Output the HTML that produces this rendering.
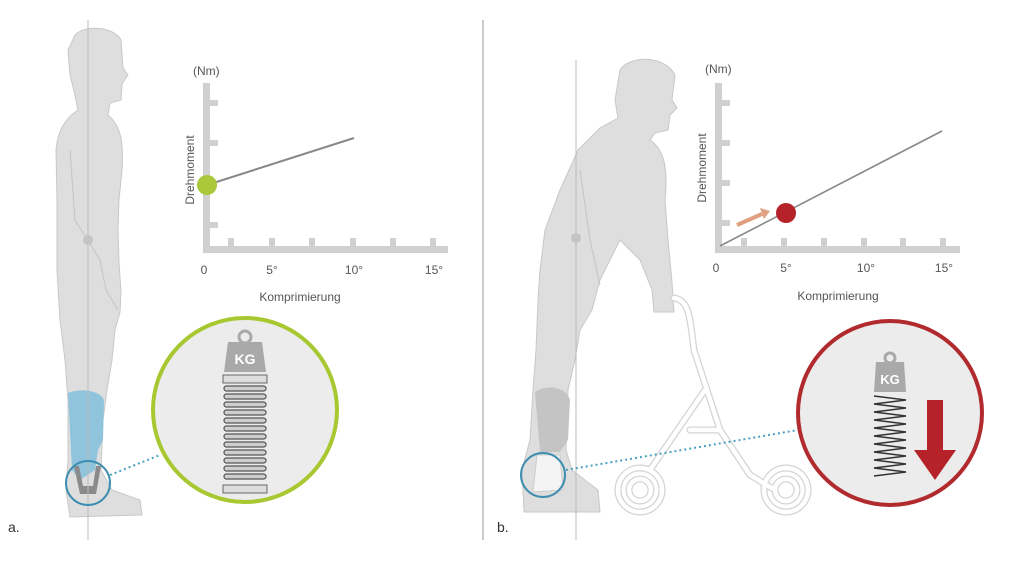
<!DOCTYPE html>
<html><head><meta charset="utf-8"><style>
html,body{margin:0;padding:0;background:#fff}
svg{display:block}
text{font-family:"Liberation Sans",sans-serif;fill:#555}
</style></head><body>
<svg width="1024" height="576" viewBox="0 0 1024 576" xmlns="http://www.w3.org/2000/svg">
<rect width="1024" height="576" fill="#fff"/>
<!-- divider -->
<line x1="483" y1="20" x2="483" y2="540" stroke="#999" stroke-width="1"/>

<!-- LEFT PERSON -->
<path d="M75 35 C85 24,115 27,121 40 L123 68 L128 75 L122 84 L121 100 L110 103 L108 115 C120 125,124 140,122 170 L119 200 L118 230 L119 262 L121 292 L120 312 L115 330 L112 360 L107 390 L103 420 L101 470 L112 490 L140 500 L142 515 L70 517 L66 490 L68 460 L68 400 L65 360 L60 320 L57 270 L57 200 L56 150 C58 125,70 115,78 110 L75 95 L70 75 L68 50 Z" fill="#dedede" stroke="#c8c8c8" stroke-width="1"/>
<path d="M70 150 L75 220 L100 260 L106 290 L118 310" fill="none" stroke="#c4c4c4" stroke-width="1"/>
<path d="M68 393 C80 388,100 390,104 400 L103 440 L98 450 L95 470 L80 480 L72 470 Z" fill="#8fc4dc"/>
<path d="M74 466 L80 494 L96 494 L101 466 L96 466 L93 486 L83 486 L79 466 Z" fill="#8a8a8a"/>
<line x1="88" y1="20" x2="88" y2="540" stroke="#bbb" stroke-width="1"/>
<circle cx="88" cy="240" r="5" fill="#c4c4c4"/>
<circle cx="88" cy="483" r="22" fill="none" stroke="#3e8eb0" stroke-width="2"/>
<line x1="110" y1="475" x2="160" y2="455" stroke="#4aa0c0" stroke-width="2" stroke-dasharray="2 3"/>

<!-- LEFT CHART -->
<g fill="#d0d0d0">
<rect x="203" y="83" width="7" height="170"/>
<rect x="203" y="246" width="245" height="7"/>
<rect x="210" y="100" width="8" height="6"/><rect x="210" y="140" width="8" height="6"/><rect x="210" y="222" width="8" height="6"/>
<rect x="228" y="238" width="6" height="8"/><rect x="269" y="238" width="6" height="8"/><rect x="309" y="238" width="6" height="8"/>
<rect x="350" y="238" width="6" height="8"/><rect x="390" y="238" width="6" height="8"/><rect x="430" y="238" width="6" height="8"/>
</g>
<line x1="207" y1="185" x2="354" y2="138" stroke="#888" stroke-width="2"/>
<circle cx="207" cy="185" r="10" fill="#a9c83a"/>
<text x="193" y="75" font-size="12">(Nm)</text>
<text transform="translate(194,170) rotate(-90)" font-size="12" text-anchor="middle">Drehmoment</text>
<g font-size="12" text-anchor="middle"><text x="204" y="274">0</text><text x="272" y="274">5°</text><text x="354" y="274">10°</text><text x="434" y="274">15°</text></g>
<text x="300" y="301" font-size="12" text-anchor="middle">Komprimierung</text>

<!-- LEFT CIRCLE -->
<circle cx="245" cy="410" r="92" fill="#ececec" stroke="#a8c832" stroke-width="4"/>
<path d="M228 342 L262 342 L266 372 L224 372 Z" fill="#a9a9a9"/>
<circle cx="245" cy="337" r="6" fill="none" stroke="#a9a9a9" stroke-width="3"/>
<text x="245" y="364" font-size="14" font-weight="bold" text-anchor="middle" style="fill:#fff">KG</text>
<g fill="#ddd" stroke="#666" stroke-width="1">
<rect x="223" y="375" width="44" height="8"/>
<rect x="223" y="485" width="44" height="8"/>
</g>
<g fill="#cfcfcf" stroke="#555" stroke-width="1.2">
<rect x="224" y="386" width="42" height="5" rx="2.5"/><rect x="224" y="394" width="42" height="5" rx="2.5"/>
<rect x="224" y="402" width="42" height="5" rx="2.5"/><rect x="224" y="410" width="42" height="5" rx="2.5"/>
<rect x="224" y="418" width="42" height="5" rx="2.5"/><rect x="224" y="426" width="42" height="5" rx="2.5"/>
<rect x="224" y="434" width="42" height="5" rx="2.5"/><rect x="224" y="442" width="42" height="5" rx="2.5"/>
<rect x="224" y="450" width="42" height="5" rx="2.5"/><rect x="224" y="458" width="42" height="5" rx="2.5"/>
<rect x="224" y="466" width="42" height="5" rx="2.5"/><rect x="224" y="474" width="42" height="5" rx="2.5"/>
</g>

<!-- RIGHT PERSON -->
<path d="M620 70 C630 55,665 55,675 75 L672 100 L677 108 L670 115 L668 130 L655 133 L650 140 C665 150,668 170,665 200 L668 240 L672 282 L674 312 L654 312 L652 290 L640 260 L620 240 L600 280 L592 310 L580 330 L575 360 L568 390 L566 450 L572 470 L598 490 L600 512 L524 512 L522 470 L530 440 L533 390 L536 350 L538 300 L540 270 L545 230 L560 190 L578 150 L600 128 L618 118 L615 100 Z" fill="#dedede" stroke="#c8c8c8" stroke-width="1"/>
<path d="M580 170 L590 240 L600 285" fill="none" stroke="#c4c4c4" stroke-width="1"/>
<path d="M535 392 C545 385,565 385,570 400 L568 440 L560 452 L540 452 Z" fill="#c4c4c4"/>
<path d="M537 455 L560 455 L563 490 L533 492 Z" fill="#f4f4f4" stroke="#ccc"/>
<line x1="576" y1="60" x2="576" y2="540" stroke="#bbb" stroke-width="1"/>
<circle cx="576" cy="238" r="5" fill="#c4c4c4"/>

<!-- WALKER -->
<g fill="none" stroke="#d4d4d4" stroke-width="7" stroke-linecap="round" stroke-linejoin="round">
<path d="M674 298 C690 300,690 320,694 350 L720 430 L750 475 L775 490"/>
<path d="M705 390 L650 470"/>
<path d="M690 430 L720 430"/>
<circle cx="640" cy="490" r="22"/><circle cx="640" cy="490" r="11"/>
<circle cx="786" cy="490" r="22"/><circle cx="786" cy="490" r="11"/>
</g>
<g fill="none" stroke="#fff" stroke-width="4.5" stroke-linecap="round" stroke-linejoin="round">
<path d="M674 298 C690 300,690 320,694 350 L720 430 L750 475 L775 490"/>
<path d="M705 390 L650 470"/>
<path d="M690 430 L720 430"/>
<circle cx="640" cy="490" r="22"/><circle cx="640" cy="490" r="11"/>
<circle cx="786" cy="490" r="22"/><circle cx="786" cy="490" r="11"/>
</g>
<circle cx="543" cy="475" r="22" fill="none" stroke="#3e8eb0" stroke-width="2"/>
<line x1="566" y1="470" x2="798" y2="430" stroke="#4aa0c0" stroke-width="2" stroke-dasharray="2 3"/>

<!-- RIGHT CHART -->
<g fill="#d0d0d0">
<rect x="715" y="83" width="7" height="170"/>
<rect x="715" y="246" width="245" height="7"/>
<rect x="722" y="100" width="8" height="6"/><rect x="722" y="140" width="8" height="6"/><rect x="722" y="180" width="8" height="6"/><rect x="722" y="220" width="8" height="6"/>
<rect x="741" y="238" width="6" height="8"/><rect x="781" y="238" width="6" height="8"/><rect x="821" y="238" width="6" height="8"/>
<rect x="861" y="238" width="6" height="8"/><rect x="900" y="238" width="6" height="8"/><rect x="940" y="238" width="6" height="8"/>
</g>
<line x1="720" y1="246" x2="942" y2="131" stroke="#888" stroke-width="1.6"/>
<circle cx="786" cy="213" r="10" fill="#b52229"/>
<line x1="737" y1="225" x2="762" y2="214" stroke="#e0a080" stroke-width="4"/>
<path d="M760 208 L770 211 L764 219 Z" fill="#e0a080"/>
<text x="705" y="73" font-size="12">(Nm)</text>
<text transform="translate(706,168) rotate(-90)" font-size="12" text-anchor="middle">Drehmoment</text>
<g font-size="12" text-anchor="middle"><text x="716" y="272">0</text><text x="786" y="272">5°</text><text x="866" y="272">10°</text><text x="944" y="272">15°</text></g>
<text x="838" y="300" font-size="12" text-anchor="middle">Komprimierung</text>

<!-- RIGHT CIRCLE -->
<circle cx="890" cy="413" r="92" fill="#ececec" stroke="#b02a2e" stroke-width="4"/>
<path d="M876 362 L904 362 L906 392 L874 392 Z" fill="#a9a9a9"/>
<circle cx="890" cy="358" r="5" fill="none" stroke="#a9a9a9" stroke-width="3"/>
<text x="890" y="384" font-size="13" font-weight="bold" text-anchor="middle" style="fill:#fff">KG</text>
<path d="M874 396 L906 400 L874 404 L906 408 L874 412 L906 416 L874 420 L906 424 L874 428 L906 432 L874 436 L906 440 L874 444 L906 448 L874 452 L906 456 L874 460 L906 464 L874 468 L906 472 L874 476" fill="none" stroke="#333" stroke-width="1.5"/>
<path d="M927 400 L943 400 L943 450 L956 450 L935 480 L914 450 L927 450 Z" fill="#b52229"/>

<text x="8" y="532" font-size="14" style="fill:#333">a.</text>
<text x="497" y="532" font-size="14" style="fill:#333">b.</text>
</svg>
</body></html>
